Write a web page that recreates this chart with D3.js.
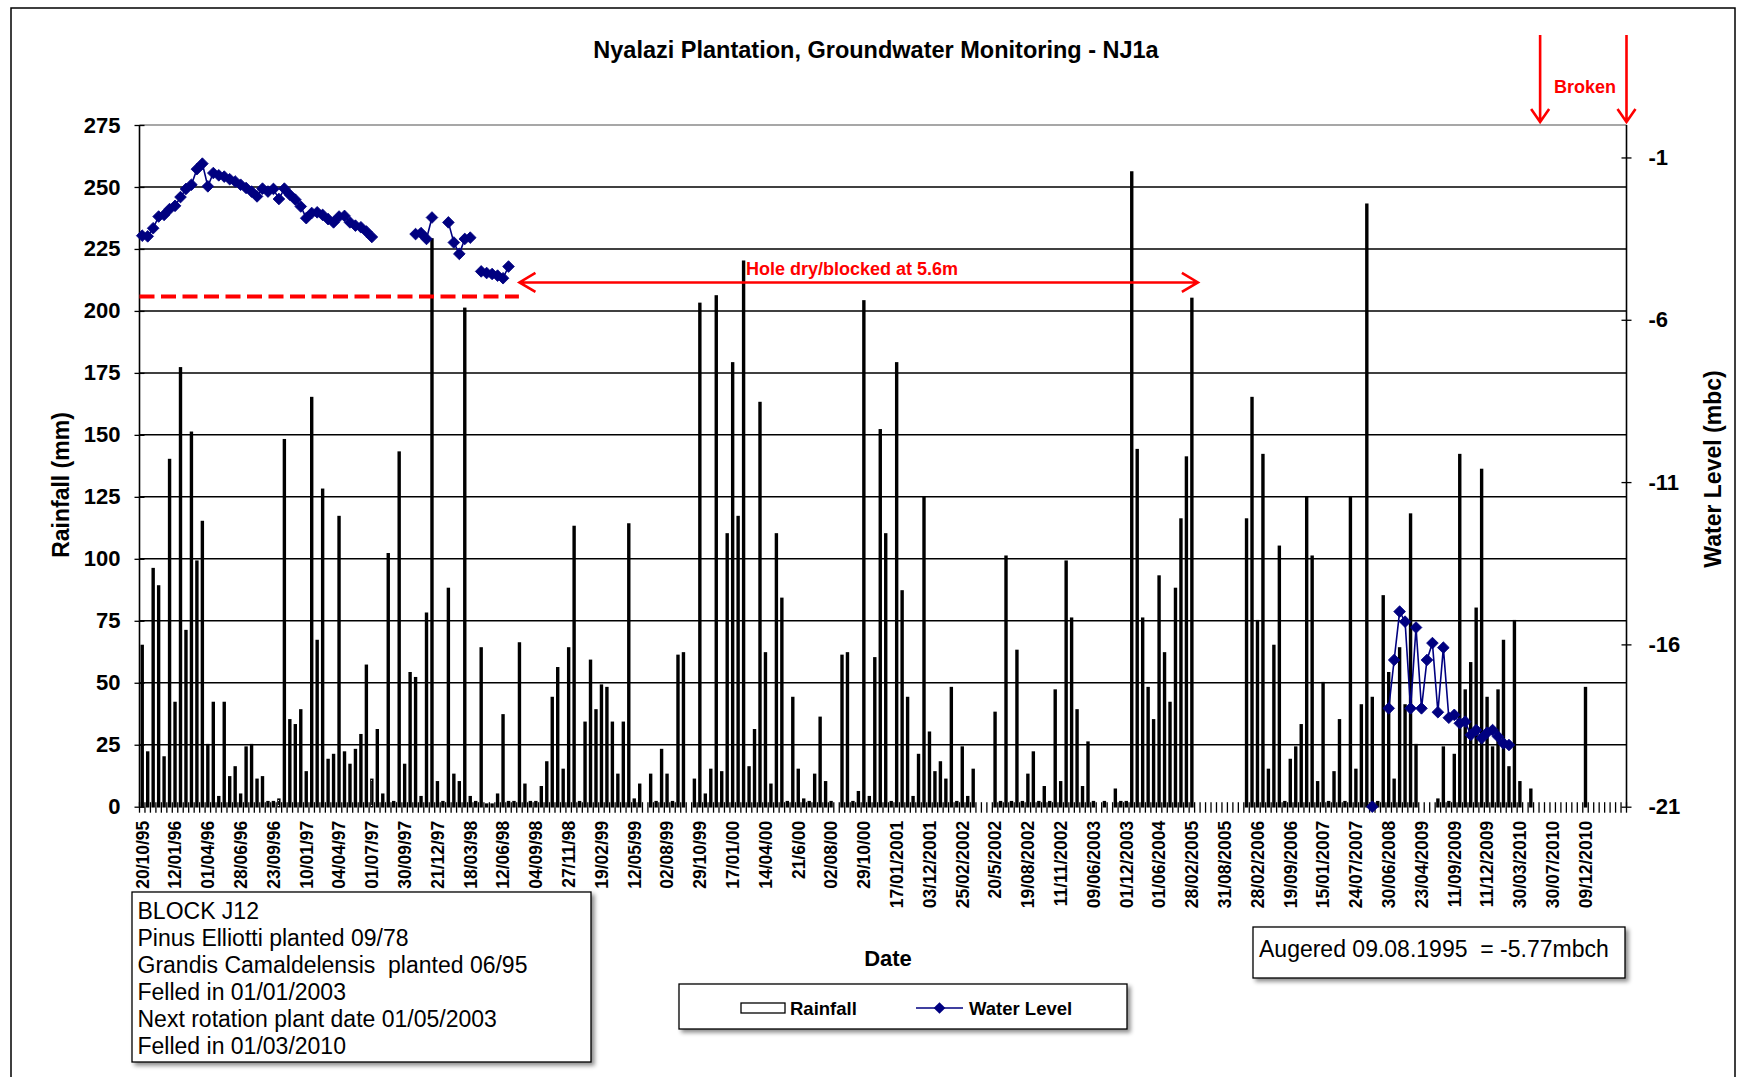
<!DOCTYPE html>
<html><head><meta charset="utf-8">
<script src="https://cdn.jsdelivr.net/npm/d3@7"></script>
<style>
body{margin:0;background:#fff;}
svg{display:block;font-family:Arial,"Liberation Sans",sans-serif;}
</style></head><body>
<svg id="chart" width="1739" height="1077"></svg>
<script>
// ---- data -------------------------------------------------------------
// one label for every sixth category on the date axis
const tickLabels = ["20/10/95","12/01/96","01/04/96","28/06/96","23/09/96","10/01/97","04/04/97","01/07/97",
  "30/09/97","21/12/97","18/03/98","12/06/98","04/09/98","27/11/98","19/02/99","12/05/99","02/08/99",
  "29/10/99","17/01/00","14/04/00","21/6/00","02/08/00","29/10/00","17/01/2001","03/12/2001","25/02/2002",
  "20/5/2002","19/08/2002","11/11/2002","09/06/2003","01/12/2003","01/06/2004","28/02/2005","31/08/2005",
  "28/02/2006","19/09/2006","15/01/2007","24/07/2007","30/06/2008","23/04/2009","11/09/2009","11/12/2009",
  "30/03/2010","30/07/2010","09/12/2010"];
const labelEvery = 6;

// rainfall per reading (mm), one value per category
const rainfall = [
  65,22,96,89,20,140,42,177,71,151,
  99,115,25,42,4,42,12,16,5,24,
  25,11,12,2,2,3,148,35,33,39,
  14,165,67,128,19,21,117,22,17,23,
  29,57,11,31,5,102,2,143,17,54,
  52,4,78,229,10,2,88,13,10,201,
  4,2,64,1,1,5,37,2,2,66,
  9,2,2,8,18,44,56,15,64,113,
  2,34,59,39,49,48,34,13,34,114,
  3,9,0,13,2,23,13,2,61,62,
  0,11,203,5,15,206,14,110,179,117,
  220,16,31,163,62,9,110,84,2,44,
  15,3,2,13,36,10,2,0,61,62,
  2,6,204,4,60,152,110,2,179,87,
  44,4,21,125,30,14,18,11,48,2,
  24,4,15,0,0,0,38,2,101,2,
  63,2,13,22,2,8,2,47,10,99,
  76,39,8,26,2,0,2,0,7,2,
  2,256,144,76,48,35,93,62,42,88,
  116,141,205,0,0,0,0,0,0,0,
  0,0,116,165,75,142,15,65,105,2,
  19,24,33,125,101,10,50,2,14,35,
  2,125,15,41,243,44,2,85,54,11,
  64,41,118,25,0,0,0,3,24,2,
  21,142,47,58,80,136,44,24,47,67,
  16,75,10,0,7,0,0,0,0,0,
  0,0,0,0,48,0,0,0,0,0,
  0,0
];

// water level readings (m below collar) and the category they fall in
const levelIndex = [
  0,1,2,3,4,5,6,7,8,9,10,11,12,13,14,15,16,17,18,19,20,21,22,23,24,25,26,27,28,29,30,31,32,33,34,35,36,37,38,39,40,41,42,
  50,51,52,53,56,57,58,59,60,62,63,64,65,66,67,
  225,
  228,229,230,231,232,233,234,235,236,237,238,239,240,241,242,243,244,245,246,247,248,249,250
];
const levelValue = [
  -3.41,-3.43,-3.18,-2.82,-2.77,-2.59,-2.49,-2.22,-1.97,-1.84,-1.36,-1.19,-1.89,-1.48,-1.55,-1.59,-1.67,-1.74,
  -1.84,-1.94,-2.05,-2.20,-1.96,-2.05,-1.97,-2.28,-1.96,-2.15,-2.30,-2.51,-2.87,-2.71,-2.69,-2.77,-2.90,-3.00,
  -2.82,-2.80,-3.00,-3.10,-3.15,-3.28,-3.45,
  -3.36,-3.33,-3.51,-2.85,-3.00,-3.62,-3.97,-3.51,-3.47,-4.51,-4.56,-4.59,-4.64,-4.72,-4.36,
  -21,
  -17.97,-16.48,-14.99,-15.30,-17.97,-15.48,-17.97,-16.48,-15.96,-18.09,-16.10,-18.26,-18.17,-18.43,-18.38,
  -18.79,-18.64,-18.89,-18.72,-18.64,-18.84,-19.05,-19.10
];

const rainTicks = [0,25,50,75,100,125,150,175,200,225,250,275];
const levelTicks = [-21,-16,-11,-6,-1];

const siteNotes = ["BLOCK J12","Pinus Elliotti planted 09/78","Grandis Camaldelensis  planted 06/95",
  "Felled in 01/01/2003","Next rotation plant date 01/05/2003","Felled in 01/03/2010"];
const augerNote = "Augered 09.08.1995  = -5.77mbch";

// annotation anchors, in data units
const holeDryLevel = -5.28;      // dashed line, water level (m)
const holeArrowLevel = -4.85;    // arrow row, water level (m)
const holeDashEnd = 69.4;        // category position
const holeArrowFrom = 69.5, holeArrowTo = 193.6;
const brokenAt = [256.2, 272];

// ---- layout ------------------------------------------------------------
const W = 1739, H = 1077;
const plot = {left: 139.5, right: 1626.5, top: 125, bottom: 806.7};
const nCat = rainfall.length;

const svg = d3.select("#chart");
const defs = svg.append("defs");
const sh = defs.append("filter").attr("id","shadow").attr("x","-5%").attr("y","-5%").attr("width","115%").attr("height","130%");
sh.append("feDropShadow").attr("dx",3).attr("dy",3).attr("stdDeviation",2.2).attr("flood-color","#000").attr("flood-opacity",0.45);
const ash = defs.append("filter").attr("id","axshadow").attr("x","-1%").attr("y","-200%").attr("width","102%").attr("height","500%");
ash.append("feDropShadow").attr("dx",0).attr("dy",3).attr("stdDeviation",1.6).attr("flood-color","#000").attr("flood-opacity",0.35);

svg.append("rect").attr("width",W).attr("height",H).attr("fill","#fff");
// chart frame
svg.append("path").attr("d",`M11,${H}V8H1735V${H}`).attr("fill","none").attr("stroke","#000").attr("stroke-width",1.5);

const x = d3.scaleBand().domain(d3.range(nCat)).range([plot.left, plot.right]).paddingInner(0).paddingOuter(0);
const step = x.step();
const xPos = k => plot.left + k * step;
const yRain = d3.scaleLinear().domain([0,275]).range([plot.bottom, plot.top]);
const yLevel = d3.scaleLinear().domain([-21,0]).range([plot.bottom, plot.top]);

// gridlines
svg.append("g").selectAll("line").data(rainTicks.filter(t => t > 0 && t < 275)).join("line")
  .attr("x1",plot.left).attr("x2",plot.right).attr("y1",d=>yRain(d)).attr("y2",d=>yRain(d))
  .attr("stroke","#000").attr("stroke-width",1.5);
svg.append("line").attr("x1",plot.left).attr("x2",plot.right).attr("y1",yRain(275)).attr("y2",yRain(275))
  .attr("stroke","#8a8a8a").attr("stroke-width",1.6);

// rainfall bars: narrow outlined columns
const barW = 1.7;
svg.append("g")
  .selectAll("rect").data(rainfall.map((v,i)=>({v,i})).filter(d=>d.v>0)).join("rect")
  .attr("x",d=>x(d.i)+(step-barW)/2).attr("width",barW)
  .attr("y",d=>yRain(d.v)).attr("height",d=>plot.bottom-yRain(d.v))
  .attr("fill","#fff").attr("stroke","#000").attr("stroke-width",1.7);

// category axis: line, boundary ticks, labels
svg.append("line").attr("x1",plot.left).attr("x2",plot.right).attr("y1",plot.bottom).attr("y2",plot.bottom)
  .attr("stroke","#000").attr("stroke-width",1.8).attr("filter","url(#axshadow)");
svg.append("g").selectAll("line").data(d3.range(nCat+1)).join("line")
  .attr("x1",k=>xPos(k)).attr("x2",k=>xPos(k)).attr("y1",plot.bottom-4.5).attr("y2",plot.bottom+6)
  .attr("stroke","#000").attr("stroke-width",1.3);

const xAxis = d3.axisBottom(x).tickValues(d3.range(0, tickLabels.length*labelEvery, labelEvery))
  .tickFormat(i => tickLabels[i/labelEvery]).tickSize(0);
const gx = svg.append("g").attr("transform",`translate(0,${plot.bottom})`).call(xAxis);
gx.select(".domain").remove();
gx.selectAll("text").attr("transform","rotate(-90)").attr("text-anchor","end")
  .attr("x",-14).attr("y",0).attr("dy","0.36em")
  .style("font-size","17.5px").style("font-weight","bold").attr("fill","#000");

// left axis
const gl = svg.append("g").attr("transform",`translate(${plot.left},0)`)
  .call(d3.axisLeft(yRain).tickValues(rainTicks).tickSize(5).tickPadding(14));
gl.select(".domain").attr("stroke","#000").attr("stroke-width",1.6).attr("d",`M0,${plot.top}V${plot.bottom}`);
gl.selectAll(".tick line").attr("x1",5).attr("x2",-5).attr("stroke-width",1.3);
gl.selectAll("text").style("font-size","22px").style("font-weight","bold").attr("fill","#000");

// right axis (plain hyphen for the minus sign)
const gr = svg.append("g").attr("transform",`translate(${plot.right},0)`)
  .call(d3.axisRight(yLevel).tickValues(levelTicks).tickFormat(d => String(d)).tickSize(5).tickPadding(17));
gr.select(".domain").attr("stroke","#000").attr("stroke-width",1.6).attr("d",`M0,${plot.top}V${plot.bottom}`);
gr.selectAll(".tick line").attr("x1",-5).attr("x2",5).attr("stroke-width",1.3);
gr.selectAll("text").style("font-size","22px").style("font-weight","bold").attr("fill","#000");

// water level series
const level = new Array(nCat).fill(null);
levelIndex.forEach((k,j) => { level[k] = levelValue[j]; });
const cx = i => x(i) + step/2;
const navy = "#000080";
svg.append("path").datum(level.map((v,i)=>({v,i})))
  .attr("d", d3.line().defined(d=>d.v!==null).x(d=>cx(d.i)).y(d=>yLevel(d.v)))
  .attr("fill","none").attr("stroke",navy).attr("stroke-width",1.6);
const diamond = d3.symbol().type(d3.symbolSquare).size(68);
svg.append("g").selectAll("path").data(level.map((v,i)=>({v,i})).filter(d=>d.v!==null)).join("path")
  .attr("d",diamond).attr("transform",d=>`translate(${cx(d.i)},${yLevel(d.v)}) rotate(45)`)
  .attr("fill",navy).attr("stroke",navy).attr("stroke-width",0.8);

// annotations
const red = "#ff0000";
svg.append("line").attr("x1",plot.left).attr("x2",xPos(holeDashEnd))
  .attr("y1",yLevel(holeDryLevel)).attr("y2",yLevel(holeDryLevel))
  .attr("stroke",red).attr("stroke-width",4).attr("stroke-dasharray","15 6.5");
const ay = yLevel(holeArrowLevel), ax0 = xPos(holeArrowFrom), ax1 = xPos(holeArrowTo);
svg.append("path").attr("d",`M${ax0},${ay}H${ax1}M${ax0+16},${ay-9.5}L${ax0},${ay}L${ax0+16},${ay+9.5}M${ax1-16},${ay-9.5}L${ax1},${ay}L${ax1-16},${ay+9.5}`)
  .attr("fill","none").attr("stroke",red).attr("stroke-width",2.6);
svg.append("text").attr("x",746).attr("y",275).text("Hole dry/blocked at 5.6m")
  .attr("fill",red).style("font-size","18px").style("font-weight","bold");
brokenAt.forEach(k => {
  const bx = xPos(k);
  svg.append("path").attr("d",`M${bx},35V${plot.top-3}M${bx-9},${plot.top-16}L${bx},${plot.top-3}L${bx+9},${plot.top-16}`)
    .attr("fill","none").attr("stroke",red).attr("stroke-width",2.6);
});
svg.append("text").attr("x",1585).attr("y",93).attr("text-anchor","middle").text("Broken")
  .attr("fill",red).style("font-size","18px").style("font-weight","bold");

// titles
svg.append("text").attr("x",876).attr("y",58).attr("text-anchor","middle")
  .text("Nyalazi Plantation, Groundwater Monitoring - NJ1a").style("font-size","23.5px").style("font-weight","bold");
svg.append("text").attr("transform","translate(69,485) rotate(-90)").attr("text-anchor","middle")
  .text("Rainfall (mm)").style("font-size","23px").style("font-weight","bold");
svg.append("text").attr("transform","translate(1721,469) rotate(-90)").attr("text-anchor","middle")
  .text("Water Level (mbc)").style("font-size","23px").style("font-weight","bold");
svg.append("text").attr("x",888).attr("y",966).attr("text-anchor","middle")
  .text("Date").style("font-size","22px").style("font-weight","bold");

// legend
const lg = svg.append("g");
lg.append("rect").attr("x",679).attr("y",984).attr("width",448).attr("height",45)
  .attr("fill","#fff").attr("stroke","#000").attr("stroke-width",1.3).attr("filter","url(#shadow)");
lg.append("rect").attr("x",741).attr("y",1003).attr("width",44).attr("height",10)
  .attr("fill","#fff").attr("stroke","#000").attr("stroke-width",1.3);
lg.append("text").attr("x",790).attr("y",1015).text("Rainfall").style("font-size","18.5px").style("font-weight","bold");
lg.append("line").attr("x1",916).attr("x2",963).attr("y1",1008).attr("y2",1008).attr("stroke",navy).attr("stroke-width",1.6);
lg.append("path").attr("d",diamond).attr("transform","translate(939.5,1008) rotate(45)").attr("fill",navy);
lg.append("text").attr("x",969).attr("y",1015).text("Water Level").style("font-size","18.5px").style("font-weight","bold");

// note boxes
const nb = svg.append("g");
nb.append("rect").attr("x",132).attr("y",892).attr("width",459).attr("height",170)
  .attr("fill","#fff").attr("stroke","#000").attr("stroke-width",1.3).attr("filter","url(#shadow)");
nb.selectAll("text").data(siteNotes).join("text")
  .attr("x",137.5).attr("y",(d,i)=>919+i*27).text(d=>d).style("font-size","23px").style("white-space","pre");
const ab = svg.append("g");
ab.append("rect").attr("x",1253).attr("y",927).attr("width",372).attr("height",51)
  .attr("fill","#fff").attr("stroke","#000").attr("stroke-width",1.3).attr("filter","url(#shadow)");
ab.append("text").attr("x",1259).attr("y",957).text(augerNote).style("font-size","23px").style("white-space","pre");
</script>
</body></html>
